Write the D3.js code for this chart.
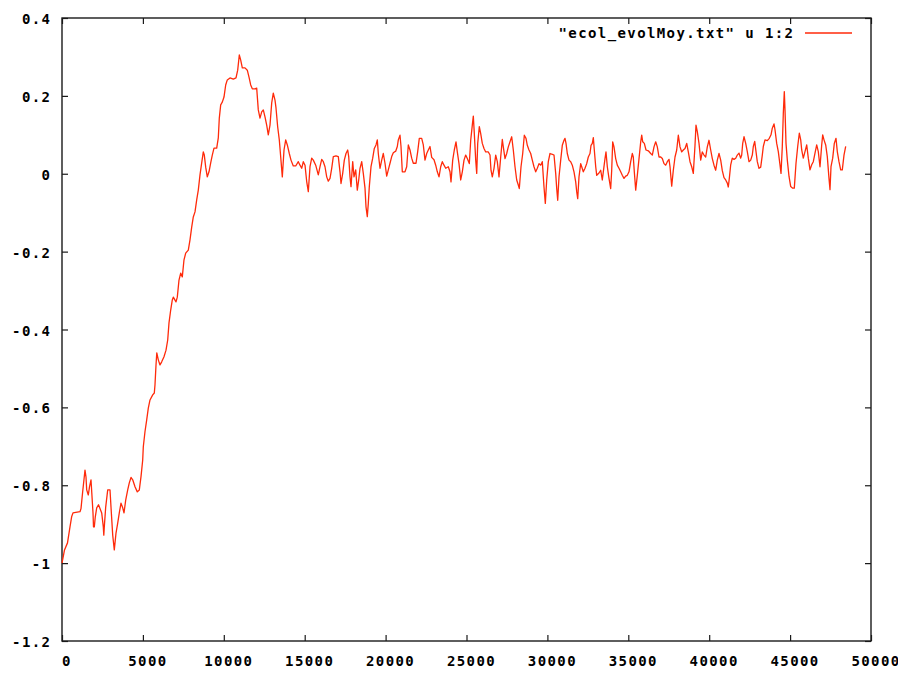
<!DOCTYPE html>
<html>
<head>
<meta charset="utf-8">
<script src="https://cdn.jsdelivr.net/npm/d3@7"></script>
<style>
html,body{margin:0;padding:0;background:#fff;}
svg{display:block;}
</style>
</head>
<body>
<svg id="chart" width="898" height="673"></svg>
<script>
// ---- data ----
const xTicks = [0,5000,10000,15000,20000,25000,30000,35000,40000,45000,50000];
const yTicks = [-1.2,-1,-0.8,-0.6,-0.4,-0.2,0,0.2,0.4];
const seriesLabel = '"ecol_evolMoy.txt" u 1:2';
// [step, mean value]
const evolMoy = [
[0,-1.000],[155,-0.966],[340,-0.948],[494,-0.907],[600,-0.880],[680,-0.871],[1112,-0.868],[1174,-0.860],[1279,-0.816],[1421,-0.761],
[1483,-0.779],[1527,-0.812],[1625,-0.825],[1700,-0.804],[1792,-0.786],[1916,-0.871],[1947,-0.907],[1996,-0.907],[2058,-0.881],[2145,-0.858],
[2256,-0.850],[2454,-0.871],[2553,-0.907],[2583,-0.928],[2614,-0.907],[2701,-0.856],[2825,-0.812],[2967,-0.812],[3028,-0.856],[3134,-0.928],
[3232,-0.966],[3337,-0.923],[3443,-0.897],[3541,-0.871],[3646,-0.846],[3752,-0.858],[3832,-0.871],[3937,-0.838],[4061,-0.812],[4159,-0.794],
[4265,-0.780],[4370,-0.786],[4512,-0.804],[4654,-0.817],[4778,-0.812],[4883,-0.778],[4988,-0.735],[5025,-0.701],[5130,-0.662],[5235,-0.632],
[5334,-0.602],[5439,-0.581],[5606,-0.568],[5705,-0.563],[5748,-0.542],[5810,-0.491],[5859,-0.460],[5952,-0.478],[6057,-0.491],[6162,-0.483],
[6304,-0.470],[6428,-0.453],[6533,-0.427],[6613,-0.383],[6718,-0.350],[6817,-0.324],[6879,-0.317],[7046,-0.329],[7126,-0.317],[7231,-0.273],
[7336,-0.255],[7435,-0.265],[7540,-0.221],[7645,-0.204],[7806,-0.196],[7911,-0.170],[8016,-0.137],[8115,-0.111],[8220,-0.098],[8325,-0.067],
[8424,-0.042],[8529,-0.003],[8634,0.028],[8733,0.056],[8795,0.048],[8881,0.017],[8980,-0.008],[9085,0.005],[9190,0.028],[9289,0.048],
[9394,0.066],[9561,0.066],[9660,0.092],[9722,0.143],[9808,0.177],[9907,0.184],[10012,0.197],[10117,0.228],[10216,0.241],[10383,0.246],
[10587,0.243],[10754,0.246],[10859,0.266],[10958,0.305],[11045,0.292],[11144,0.272],[11310,0.272],[11452,0.266],[11558,0.248],[11663,0.228],
[11762,0.218],[11928,0.218],[12033,0.220],[12132,0.164],[12237,0.143],[12342,0.159],[12441,0.164],[12546,0.146],[12651,0.125],[12750,0.100],
[12855,0.125],[12961,0.182],[13059,0.207],[13164,0.189],[13226,0.169],[13331,0.120],[13430,0.087],[13517,0.043],[13616,-0.008],[13721,0.061],
[13826,0.087],[13925,0.074],[14048,0.052],[14153,0.035],[14295,0.020],[14444,0.020],[14604,0.031],[14710,0.022],[14815,0.014],[14914,0.031],
[15019,0.022],[15124,-0.020],[15223,-0.046],[15328,0.018],[15433,0.040],[15532,0.035],[15680,0.022],[15841,-0.003],[15946,0.018],[16051,0.037],
[16150,0.031],[16255,0.018],[16360,-0.008],[16459,-0.019],[16564,-0.012],[16669,0.014],[16768,0.044],[16935,0.046],[17077,0.044],[17182,0.005],
[17244,-0.025],[17349,0.001],[17448,0.035],[17553,0.052],[17658,0.061],[17720,0.044],[17800,-0.008],[17862,-0.033],[17967,0.031],[18047,-0.008],
[18152,0.010],[18251,-0.042],[18338,-0.016],[18418,0.014],[18523,0.031],[18622,0.001],[18727,-0.037],[18789,-0.085],[18869,-0.110],[18931,-0.076],
[18993,-0.033],[19098,0.018],[19203,0.040],[19302,0.065],[19407,0.074],[19487,0.087],[19549,0.052],[19654,0.014],[19759,0.035],[19858,0.052],
[19963,0.027],[20068,-0.006],[20167,0.010],[20272,0.027],[20377,0.044],[20476,0.054],[20625,0.058],[20724,0.070],[20786,0.087],[20890,0.099],
[20952,0.070],[21032,0.005],[21199,0.005],[21304,0.018],[21403,0.074],[21508,0.061],[21613,0.040],[21712,0.027],[21879,0.027],[21984,0.057],
[22083,0.091],[22231,0.091],[22330,0.074],[22435,0.035],[22540,0.052],[22639,0.061],[22744,0.070],[22849,0.042],[22992,0.036],[23097,0.022],
[23196,0.005],[23301,-0.008],[23406,0.018],[23505,0.031],[23610,0.022],[23715,0.014],[23875,0.018],[23980,0.005],[24042,-0.021],[24147,0.035],
[24246,0.061],[24351,0.082],[24432,0.056],[24537,0.026],[24642,-0.016],[24741,0.005],[24846,0.035],[24951,0.048],[25050,0.039],[25174,0.026],
[25260,0.086],[25359,0.125],[25421,0.148],[25483,0.103],[25569,0.035],[25631,0.001],[25693,0.078],[25792,0.121],[25878,0.103],[25977,0.078],
[26082,0.065],[26187,0.056],[26348,0.056],[26453,0.048],[26514,0.009],[26595,-0.008],[26700,0.014],[26805,0.048],[26904,0.031],[27009,-0.008],
[27114,0.043],[27213,0.088],[27275,0.069],[27380,0.039],[27485,0.052],[27584,0.069],[27689,0.082],[27794,0.095],[27893,0.061],[27998,0.018],
[28103,-0.016],[28202,-0.029],[28264,-0.038],[28369,0.018],[28474,0.052],[28573,0.099],[28678,0.091],[28758,0.073],[28863,0.061],[28968,0.052],
[29067,0.035],[29172,0.018],[29277,0.005],[29376,0.014],[29481,0.026],[29586,0.022],[29685,0.031],[29790,-0.034],[29871,-0.076],[29957,-0.016],
[30056,0.031],[30161,0.052],[30303,0.050],[30408,0.048],[30513,0.001],[30575,-0.038],[30637,-0.068],[30717,-0.008],[30822,0.035],[30921,0.073],
[31026,0.086],[31088,0.091],[31150,0.078],[31230,0.052],[31335,0.035],[31440,0.031],[31539,0.022],[31644,0.005],[31749,-0.021],[31811,-0.046],
[31873,-0.064],[31953,-0.008],[32058,0.026],[32120,0.018],[32219,0.005],[32324,0.014],[32429,0.026],[32528,0.043],[32633,0.052],[32695,0.073],
[32776,0.078],[32838,0.093],[32899,0.061],[32986,0.018],[33048,-0.004],[33189,0.002],[33294,0.009],[33393,-0.016],[33455,0.005],[33560,0.039],
[33622,0.056],[33703,0.018],[33807,-0.012],[33912,-0.038],[33974,0.009],[34036,0.082],[34116,0.069],[34221,0.039],[34320,0.022],[34425,0.014],
[34530,0.005],[34629,-0.004],[34734,-0.012],[34839,-0.006],[34938,-0.004],[35043,0.005],[35148,0.031],[35247,0.052],[35309,0.043],[35371,0.005],
[35458,-0.042],[35557,-0.004],[35662,0.039],[35767,0.082],[35829,0.099],[35891,0.082],[35990,0.078],[36095,0.061],[36237,0.059],[36385,0.052],
[36484,0.048],[36589,0.069],[36694,0.082],[36793,0.069],[36898,0.043],[37003,0.043],[37102,0.039],[37207,0.026],[37312,0.022],[37411,0.031],
[37516,0.037],[37578,0.018],[37683,-0.032],[37782,0.009],[37887,0.043],[37992,0.061],[38091,0.099],[38196,0.069],[38301,0.056],[38400,0.061],
[38505,0.065],[38610,0.078],[38709,0.056],[38814,0.031],[38919,0.018],[39018,0.001],[39123,0.073],[39184,0.125],[39265,0.108],[39370,0.078],
[39475,0.035],[39574,0.056],[39679,0.048],[39784,0.043],[39883,0.069],[39988,0.086],[40093,0.061],[40192,0.039],[40297,0.022],[40402,0.009],
[40501,0.035],[40606,0.052],[40711,0.035],[40810,0.008],[40915,-0.010],[41020,-0.016],[41119,-0.024],[41181,-0.034],[41243,-0.012],[41329,0.023],
[41428,0.040],[41533,0.037],[41638,0.040],[41737,0.048],[41842,0.053],[41947,0.040],[42009,0.048],[42071,0.078],[42151,0.095],[42256,0.078],
[42355,0.057],[42460,0.031],[42565,0.035],[42664,0.048],[42726,0.070],[42812,0.083],[42893,0.057],[42973,0.031],[43078,0.014],[43183,0.017],
[43282,0.048],[43344,0.070],[43449,0.087],[43591,0.085],[43715,0.091],[43820,0.100],[43900,0.117],[44005,0.128],[44067,0.113],[44172,0.078],
[44271,0.057],[44376,0.023],[44438,0.001],[44518,0.070],[44580,0.155],[44642,0.211],[44685,0.164],[44747,0.078],[44828,0.035],[44933,-0.007],
[45038,-0.033],[45161,-0.037],[45260,-0.037],[45365,0.027],[45470,0.070],[45569,0.104],[45656,0.087],[45717,0.061],[45816,0.040],[45921,0.057],
[46026,0.074],[46125,0.040],[46230,0.010],[46335,0.023],[46434,0.031],[46539,0.053],[46644,0.074],[46743,0.057],[46848,0.018],[46953,0.074],
[47015,0.100],[47095,0.087],[47200,0.074],[47299,0.044],[47404,-0.012],[47466,-0.041],[47528,0.018],[47633,0.040],[47732,0.078],[47837,0.091],
[47917,0.057],[48022,0.031],[48127,0.010],[48226,0.010],[48331,0.048],[48436,0.070]
];

// ---- drawing ----
const svg = d3.select("#chart");
const plot = {left:62, right:871, top:18, bottom:641};
const x = d3.scaleLinear().domain([0,50000]).range([plot.left, plot.right]);
const y = d3.scaleLinear().domain([-1.2,0.4]).range([plot.bottom, plot.top]);

const FONT = "'DejaVu Sans Mono', 'Liberation Mono', monospace";
const axisColor = "#1a1a1a";
const tickLen = 6;
const fmtY = d => String(+(+d).toFixed(1));

function styleAxis(g){
  g.select(".domain").remove();
  g.selectAll(".tick line").attr("stroke", axisColor).attr("stroke-width", 1.2);
  g.selectAll("text")
    .attr("fill", "#000")
    .style("font-family", FONT)
    .style("font-weight", "bold")
    .style("font-size", "14px")
    .style("letter-spacing", "1.4px");
}

// bottom axis with labels
const gx = svg.append("g")
  .attr("transform", `translate(0,${plot.bottom})`)
  .call(d3.axisBottom(x).tickValues(xTicks).tickSizeInner(-tickLen).tickSizeOuter(0).tickFormat(d3.format("d")));
styleAxis(gx);
gx.selectAll("text").attr("y", 25).attr("dy", null).attr("x", 4.5);

// top axis (mirror ticks)
const gt = svg.append("g")
  .attr("transform", `translate(0,${plot.top})`)
  .call(d3.axisTop(x).tickValues(xTicks).tickSizeInner(-tickLen).tickSizeOuter(0).tickFormat(""));
styleAxis(gt);

// left axis with labels
const gy = svg.append("g")
  .attr("transform", `translate(${plot.left},0)`)
  .call(d3.axisLeft(y).tickValues(yTicks).tickSizeInner(-tickLen).tickSizeOuter(0).tickFormat(fmtY));
styleAxis(gy);
gy.selectAll("text").attr("x", -10.6).attr("dy", null).attr("y", 5.5).attr("text-anchor", "end");

// right axis (mirror ticks)
const gr = svg.append("g")
  .attr("transform", `translate(${plot.right},0)`)
  .call(d3.axisRight(y).tickValues(yTicks).tickSizeInner(-tickLen).tickSizeOuter(0).tickFormat(""));
styleAxis(gr);

// border
svg.append("rect")
  .attr("x", plot.left).attr("y", plot.top)
  .attr("width", plot.right - plot.left).attr("height", plot.bottom - plot.top)
  .attr("fill", "none").attr("stroke", axisColor).attr("stroke-width", 1.4);

// data line
const line = d3.line().x(d => x(d[0])).y(d => y(d[1]));
svg.append("path")
  .datum(evolMoy)
  .attr("d", line)
  .attr("fill", "none")
  .attr("stroke", "#ff2a0a")
  .attr("stroke-width", 1.3)
  .attr("stroke-linejoin", "round");

// legend
const legendY = 33;
svg.append("text")
  .attr("x", 794.4).attr("y", legendY + 5)
  .attr("text-anchor", "end")
  .attr("fill", "#000")
  .style("font-family", FONT)
  .style("font-weight", "bold")
  .style("font-size", "14px")
  .style("letter-spacing", "1.4px")
  .text(seriesLabel);
svg.append("line")
  .attr("x1", 805).attr("x2", 852)
  .attr("y1", legendY).attr("y2", legendY)
  .attr("stroke", "#ff2a0a").attr("stroke-width", 1.3);
</script>
</body>
</html>
